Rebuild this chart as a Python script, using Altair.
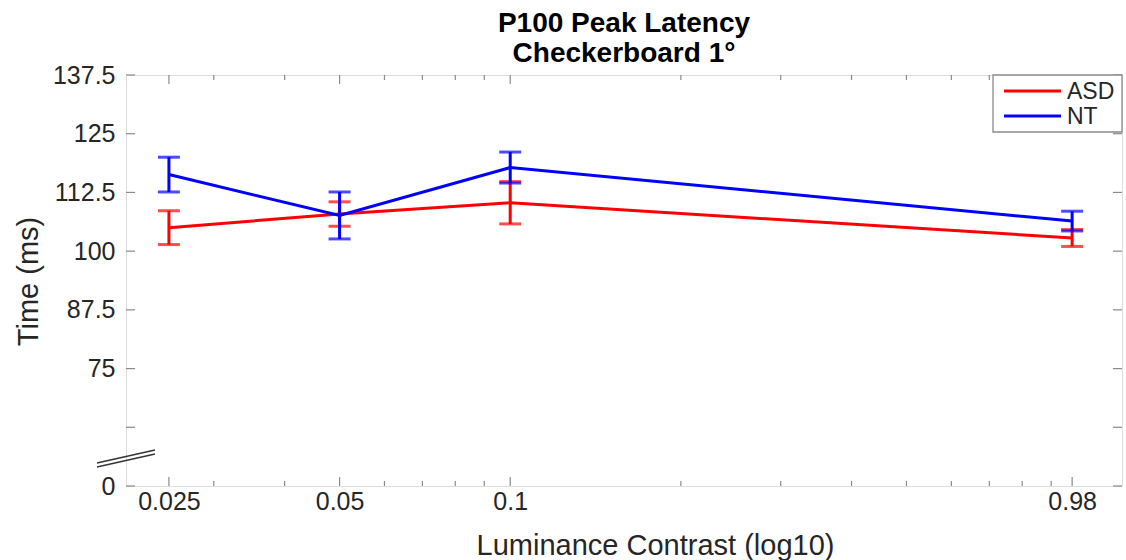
import altair as alt
import pandas as pd

# ---- data ----
contrast = [0.025, 0.05, 0.1, 0.98]
series = ["ASD", "NT"]
colors = ["#ff0000", "#0000ff"]
asd_mean = [105.0, 107.9, 110.3, 102.8]
asd_err = [3.6, 2.6, 4.5, 1.8]
nt_mean = [116.3, 107.6, 117.8, 106.4]
nt_err = [3.7, 5.0, 3.3, 2.1]

x_major = [0.025, 0.05, 0.1, 0.98]
x_major_labels = ["0.025", "0.05", "0.1", "0.98"]
x_minor = [0.03, 0.04, 0.06, 0.07, 0.08, 0.09, 0.2, 0.3, 0.4, 0.5, 0.6, 0.7, 0.8, 0.9]
y_major = [50, 62.5, 75, 87.5, 100, 112.5, 125, 137.5]
y_major_labels = ["0", "", "75", "87.5", "100", "112.5", "125", "137.5"]

title_lines = ["P100 Peak Latency", "Checkerboard 1°"]
x_title = "Luminance Contrast (log10)"
y_title = "Time (ms)"

W, H = 996, 411
FONT = "Liberation Sans"
FRAME = "#8a8a8a"
TXT = "#262626"

rows = []
for s, m_list, e_list in [("ASD", asd_mean, asd_err), ("NT", nt_mean, nt_err)]:
    for c, m, e in zip(contrast, m_list, e_list):
        rows.append({"c": c, "series": s, "mean": m, "lo": m - e, "hi": m + e})
df = pd.DataFrame(rows)


def label_expr(values, labels):
    expr = "''"
    for v, l in reversed(list(zip(values, labels))):
        expr = f"(abs(datum.value - {v}) < 1e-9 ? '{l}' : {expr})"
    return expr


xscale = alt.Scale(type="log", domain=[0.021, 1.2])
yscale = alt.Scale(domain=[50, 137.5], zero=False, nice=False)
cscale = alt.Scale(domain=series, range=colors)

x_axis = alt.Axis(values=x_major, labelExpr=label_expr(x_major, x_major_labels),
                  ticks=False, domain=False, grid=False,
                  labelFontSize=25, labelFont=FONT, labelColor=TXT, labelPadding=3,
                  title=x_title, titleFontSize=29, titleFont=FONT, titleColor=TXT,
                  titleFontWeight="normal", titleX=529, titleAlign="center",
                  titleY=59, titleBaseline="middle")
y_axis = alt.Axis(values=y_major, labelExpr=label_expr(y_major, y_major_labels),
                  ticks=False, domain=False, grid=False,
                  labelFontSize=25, labelFont=FONT, labelColor=TXT, labelPadding=11,
                  title=y_title, titleFontSize=29, titleFont=FONT, titleColor=TXT,
                  titleFontWeight="normal", titleX=-98, titleY=206, titleAngle=-90,
                  titleBaseline="middle", titleAlign="center")


def X(field):
    return alt.X(field, type="quantitative", scale=xscale, axis=x_axis)


def Y(field):
    return alt.Y(field, type="quantitative", scale=yscale, axis=y_axis)


layers = []
for s in series:
    base = alt.Chart(df).transform_filter(alt.datum.series == s)
    col = alt.Color("series:N", scale=cscale, legend=None)
    layers.append(base.mark_line(strokeWidth=3).encode(x=X("c"), y=Y("mean"), color=col))
    layers.append(base.mark_rule(strokeWidth=3).encode(x=X("c"), y=Y("lo"), y2="hi", color=col))
    layers.append(base.mark_tick(orient="horizontal", size=22, thickness=3).encode(
        x=X("c"), y=Y("lo"), color=col))
    layers.append(base.mark_tick(orient="horizontal", size=22, thickness=3).encode(
        x=X("c"), y=Y("hi"), color=col))

# inward ticks (box style)
xmaj = pd.DataFrame({"v": x_major})
xmin = pd.DataFrame({"v": x_minor})
ymaj = pd.DataFrame({"v": y_major})
tick_style = dict(color=FRAME, strokeWidth=1.2)
layers += [
    alt.Chart(xmaj).mark_rule(**tick_style).encode(x=X("v"), y=alt.value(H), y2=alt.value(H - 9)),
    alt.Chart(xmaj).mark_rule(**tick_style).encode(x=X("v"), y=alt.value(0), y2=alt.value(9)),
    alt.Chart(xmin).mark_rule(**tick_style).encode(x=X("v"), y=alt.value(H), y2=alt.value(H - 5)),
    alt.Chart(xmin).mark_rule(**tick_style).encode(x=X("v"), y=alt.value(0), y2=alt.value(5)),
    alt.Chart(ymaj).mark_rule(**tick_style).encode(y=Y("v"), x=alt.value(0), x2=alt.value(9)),
    alt.Chart(ymaj).mark_rule(**tick_style).encode(y=Y("v"), x=alt.value(W), x2=alt.value(W - 9)),
]

one = pd.DataFrame({"a": [0]})
# axis break marks
layers += [
    alt.Chart(one).mark_rule(color="#333333", strokeWidth=1.3).encode(
        x=alt.value(-29), x2=alt.value(29), y=alt.value(392), y2=alt.value(379)),
    alt.Chart(one).mark_rule(color="#333333", strokeWidth=1.3).encode(
        x=alt.value(-29), x2=alt.value(29), y=alt.value(388), y2=alt.value(375)),
]

# legend box
layers.append(alt.Chart(one).mark_rect(fill="white", stroke=FRAME, strokeWidth=1.3).encode(
    x=alt.value(867), x2=alt.value(W), y=alt.value(0), y2=alt.value(57)))
for i, (s, c) in enumerate(zip(series, colors)):
    yy = 16 + 25 * i
    layers.append(alt.Chart(one).mark_rule(color=c, strokeWidth=3).encode(
        x=alt.value(878), x2=alt.value(935), y=alt.value(yy), y2=alt.value(yy)))
    layers.append(alt.Chart(one).mark_text(text=s, align="left", baseline="middle",
                                           font=FONT, fontSize=23, color=TXT).encode(
        x=alt.value(941), y=alt.value(yy + 1)))

chart = alt.layer(*layers).properties(
    width=W, height=H,
    autosize=alt.AutoSizeParams(type="none"),
    padding={"left": 126, "top": 75, "right": 4, "bottom": 74},
    title=alt.TitleParams(text=title_lines, fontSize=28, font=FONT, fontWeight="bold",
                          color="black", anchor="middle", offset=-5, lineHeight=30),
).configure_view(stroke=FRAME, strokeWidth=1.5).configure(background="white")

chart.save("out.html", embed_options={"renderer": "svg", "actions": False})
